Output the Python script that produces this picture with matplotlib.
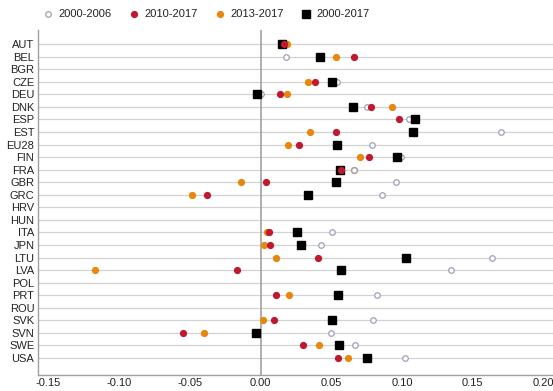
import numpy as np
import matplotlib.pyplot as plt
from matplotlib.lines import Line2D

plt.rcParams['font.family'] = ['Liberation Sans', 'DejaVu Sans']

countries = ["AUT", "BEL", "BGR", "CZE", "DEU", "DNK", "ESP", "EST", "EU28", "FIN",
             "FRA", "GBR", "GRC", "HRV", "HUN", "ITA", "JPN", "LTU", "LVA", "POL",
             "PRT", "ROU", "SVK", "SVN", "SWE", "USA"]
nan = np.nan

# average annual growth by period
g_2000_2006 = [0.016, 0.0179, nan, 0.054, 0.000, 0.075, 0.1047, 0.170, 0.0785, 0.0995,
               0.066, 0.0955, 0.086, nan, nan, 0.0507, 0.0427, 0.1638, 0.1344, nan,
               0.082, nan, 0.0795, 0.0497, 0.0668, 0.1023]
g_2010_2017 = [0.0165, 0.066, nan, 0.0382, 0.0140, 0.0778, 0.098, 0.0535, 0.0273, 0.0766,
               0.057, 0.004, -0.0377, nan, nan, 0.0059, 0.0066, 0.0408, -0.0165, nan,
               0.0111, nan, 0.0094, -0.0547, 0.0302, 0.0547]
g_2013_2017 = [0.0184, 0.0535, nan, 0.0337, 0.0184, 0.0929, nan, 0.0347, 0.0193, 0.0702,
               0.066, -0.0137, -0.0488, nan, nan, 0.0047, 0.0021, 0.0111, -0.117, nan,
               0.0203, nan, 0.0014, -0.0403, 0.0413, 0.062]
g_2000_2017 = [0.0153, 0.0422, nan, 0.0502, -0.0028, 0.0651, 0.1089, 0.1078, 0.0537, 0.0967,
               0.0561, 0.053, 0.0337, nan, nan, 0.026, 0.0288, 0.1028, 0.0568, nan,
               0.0545, nan, 0.0502, -0.0035, 0.0552, 0.0754]

RED = "#c0182f"
ORANGE = "#e8870c"
CIRCLE = "#9aa2b8"

fig = plt.figure(figsize=(5.53, 3.91), dpi=100)
ax = fig.add_axes([0.0696, 0.0409, 0.9644, 0.882])

y = np.arange(len(countries))

for yi in y:
    ax.axhline(yi, color="#d2d2d2", lw=0.9, zorder=1)
ax.axvline(0, color="#a8a8a8", lw=1.3, zorder=1.5)

ax.plot(g_2013_2017, y, "o", ms=4.2, color=ORANGE, mec=ORANGE, ls="none", zorder=3)
ax.plot(g_2000_2006, y, "o", ms=4.0, mfc="white", mec=CIRCLE, mew=0.9, ls="none", zorder=4)
ax.plot(g_2000_2017, y, "s", ms=5.6, color="black", ls="none", zorder=5)
ax.plot(g_2010_2017, y, "o", ms=4.2, color=RED, mec=RED, ls="none", zorder=6)

ax.set_xlim(-0.157, 0.22)
ax.set_ylim(26.35, -1.11)
ax.set_yticks(y)
ax.set_yticklabels(countries)
ax.set_xticks([-0.15, -0.10, -0.05, 0.00, 0.05, 0.10, 0.15, 0.20])
ax.set_xticklabels(["-0.15", "-0.10", "-0.05", "0.00", "0.05", "0.10", "0.15", "0.20"])
ax.tick_params(axis="y", length=0, pad=3, labelsize=8, labelcolor="#222222")
ax.tick_params(axis="x", length=0, pad=2.5, labelsize=8, labelcolor="#222222")

for side in ["top", "right"]:
    ax.spines[side].set_visible(False)
for side in ["left", "bottom"]:
    ax.spines[side].set_color("#a0a0a0")
    ax.spines[side].set_linewidth(1.0)

handles = [
    Line2D([], [], marker="o", ls="none", ms=4.0, mfc="white", mec=CIRCLE, mew=0.9),
    Line2D([], [], marker="o", ls="none", ms=4.2, color=RED),
    Line2D([], [], marker="o", ls="none", ms=4.2, color=ORANGE),
    Line2D([], [], marker="s", ls="none", ms=5.6, color="black"),
]
labels = ["2000-2006", "2010-2017", "2013-2017", "2000-2017"]
fig.legend(handles, labels, loc="center left", bbox_to_anchor=(0.058, 0.963),
           ncol=4, frameon=False, fontsize=8, handlelength=1.0, handletextpad=0.5,
           columnspacing=1.45, labelcolor="#222222")

fig.savefig("out.png", dpi=100)
